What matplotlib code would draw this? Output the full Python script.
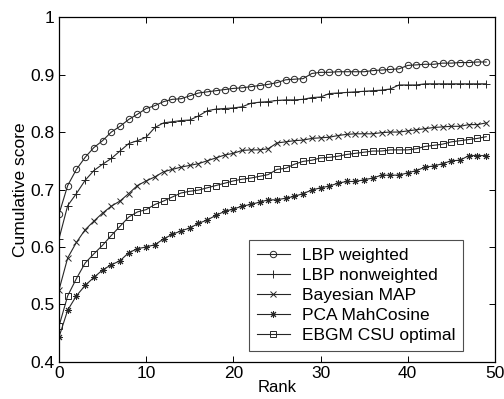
import matplotlib
matplotlib.use("Agg")
import matplotlib.pyplot as plt
import numpy as np

plt.rcParams['font.family'] = ['Liberation Sans', 'DejaVu Sans']

rank = list(range(50))

lbp_weighted = [0.657, 0.707, 0.735, 0.756, 0.773, 0.785, 0.800, 0.810, 0.822, 0.831,
                0.841, 0.846, 0.853, 0.857, 0.858, 0.863, 0.868, 0.870, 0.872, 0.874,
                0.876, 0.877, 0.879, 0.881, 0.883, 0.886, 0.891, 0.892, 0.893, 0.902,
                0.904, 0.904, 0.905, 0.905, 0.905, 0.905, 0.907, 0.908, 0.909, 0.910,
                0.916, 0.917, 0.918, 0.918, 0.920, 0.920, 0.921, 0.921, 0.922, 0.922]

lbp_nonweighted = [0.614, 0.672, 0.693, 0.716, 0.733, 0.744, 0.754, 0.767, 0.780, 0.785,
                   0.791, 0.808, 0.816, 0.818, 0.820, 0.821, 0.828, 0.837, 0.840, 0.841,
                   0.842, 0.844, 0.850, 0.852, 0.853, 0.855, 0.856, 0.856, 0.857, 0.860,
                   0.861, 0.867, 0.868, 0.869, 0.870, 0.871, 0.872, 0.873, 0.875, 0.882,
                   0.882, 0.882, 0.884, 0.884, 0.884, 0.884, 0.884, 0.884, 0.884, 0.884]

bayesian_map = [0.525, 0.581, 0.608, 0.630, 0.645, 0.659, 0.671, 0.680, 0.693, 0.707,
                0.715, 0.722, 0.731, 0.735, 0.739, 0.742, 0.745, 0.750, 0.755, 0.760,
                0.763, 0.768, 0.769, 0.769, 0.771, 0.781, 0.783, 0.785, 0.786, 0.789,
                0.790, 0.791, 0.794, 0.796, 0.797, 0.797, 0.797, 0.799, 0.800, 0.800,
                0.802, 0.804, 0.806, 0.808, 0.809, 0.810, 0.810, 0.813, 0.813, 0.816]

pca_mahcosine = [0.443, 0.490, 0.515, 0.533, 0.547, 0.560, 0.569, 0.576, 0.590, 0.597,
                 0.600, 0.604, 0.614, 0.622, 0.628, 0.633, 0.641, 0.647, 0.655, 0.662,
                 0.666, 0.671, 0.674, 0.678, 0.682, 0.682, 0.685, 0.688, 0.693, 0.699,
                 0.703, 0.706, 0.711, 0.714, 0.714, 0.717, 0.720, 0.725, 0.725, 0.725,
                 0.729, 0.733, 0.739, 0.741, 0.745, 0.750, 0.751, 0.759, 0.759, 0.759]

ebgm_csu = [0.462, 0.515, 0.545, 0.572, 0.588, 0.603, 0.620, 0.636, 0.652, 0.661,
            0.665, 0.674, 0.680, 0.687, 0.694, 0.697, 0.699, 0.703, 0.707, 0.711,
            0.715, 0.718, 0.720, 0.723, 0.726, 0.735, 0.737, 0.744, 0.749, 0.751,
            0.755, 0.756, 0.758, 0.761, 0.763, 0.765, 0.767, 0.767, 0.769, 0.769,
            0.769, 0.771, 0.775, 0.777, 0.779, 0.783, 0.785, 0.787, 0.789, 0.792]

labels = ["LBP weighted", "LBP nonweighted", "Bayesian MAP", "PCA MahCosine", "EBGM CSU optimal"]
values = [lbp_weighted, lbp_nonweighted, bayesian_map, pca_mahcosine, ebgm_csu]
markers = ['o', '+', 'x', (8, 2, 0), 's']
msizes = [4.6, 6.0, 4.2, 5.0, 4.0]

xticks = [0, 10, 20, 30, 40, 50]
yticks = [0.4, 0.5, 0.6, 0.7, 0.8, 0.9, 1.0]
yticklabels = ['0.4', '0.5', '0.6', '0.7', '0.8', '0.9', '1']

fig = plt.figure(figsize=(5.04, 3.99), dpi=100)
ax = fig.add_axes([0.117, 0.093, 0.865, 0.864])

col = '#262626'
for label, vals, m, ms in zip(labels, values, markers, msizes):
    ax.plot(rank, vals, color=col, linewidth=0.8, marker=m, markersize=ms,
            markerfacecolor='none', markeredgecolor=col, markeredgewidth=0.7,
            label=label)

ax.set_xlim(0, 50)
ax.set_ylim(0.4, 1.0)
ax.set_xticks(xticks)
ax.set_yticks(yticks)
ax.set_yticklabels(yticklabels)
ax.tick_params(direction='in', top=True, right=True, labelsize=12.5, length=4,
               width=0.7, pad=3)
for s in ax.spines.values():
    s.set_linewidth(0.9)
ax.set_xlabel('Rank', fontsize=12, labelpad=-1)
ax.set_ylabel('Cumulative score', fontsize=12.5, labelpad=2)

leg = ax.legend(loc='lower right', bbox_to_anchor=(0.927, 0.032), fontsize=12.5,
                frameon=True, fancybox=False, edgecolor='#222222',
                handlelength=1.9, borderpad=0.45, labelspacing=0.28,
                handletextpad=0.7, borderaxespad=0)
leg.get_frame().set_linewidth(0.8)

fig.savefig('out.png', dpi=100)
